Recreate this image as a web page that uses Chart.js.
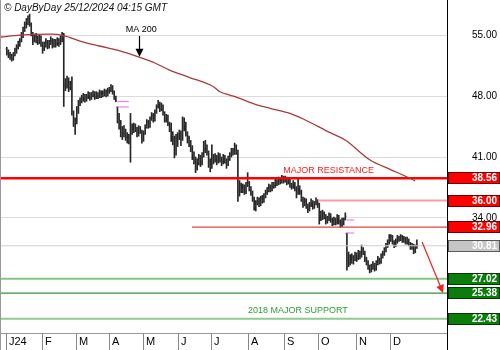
<!DOCTYPE html>
<html>
<head>
<meta charset="utf-8">
<script src="https://cdn.jsdelivr.net/npm/chart.js@4.4.1/dist/chart.umd.min.js"></script>
<style>
  html, body { margin: 0; padding: 0; background: #fff; }
  canvas { display: block; }
</style>
</head>
<body>
<canvas id="chart" width="500" height="350"></canvas>
<script>
// daily bars 2 Jan - 24 Dec 2024, x = trading day index
const opens = [
  53.4,53.0,52.7,52.5,52.3,52.8,53.1,53.6,54.0,54.4,
  55.0,55.7,56.2,56.6,57.0,56.2,55.1,54.5,54.8,54.4,
  54.3,54.6,53.9,53.4,53.9,54.2,53.8,54.1,54.3,53.9,
  54.2,54.0,54.3,54.1,54.5,54.8,49.3,49.5,49.8,49.0,
  49.2,46.2,44.8,45.0,46.5,47.2,47.5,47.8,48.0,47.6,
  47.9,48.2,47.8,48.1,48.3,47.9,48.2,48.0,48.4,48.1,
  48.3,48.5,48.2,48.6,48.8,48.9,48.5,47.8,46.7,45.3,
  44.6,43.8,44.0,43.6,43.3,43.0,43.2,44.5,44.0,44.6,
  44.2,43.6,44.3,44.0,43.0,43.8,44.5,45.0,44.6,45.4,
  45.8,45.3,46.2,46.8,47.2,46.5,46.9,46.0,45.2,45.6,
  44.8,44.2,43.5,43.0,42.0,42.5,43.3,43.8,43.0,44.5,
  44.8,43.6,43.2,42.6,42.0,41.4,40.6,39.8,40.5,40.9,
  40.3,41.2,41.8,42.2,41.5,40.5,39.9,40.8,40.6,41.0,
  40.5,41.2,40.8,40.4,41.0,40.6,40.2,40.9,41.3,41.8,
  41.5,42.2,41.6,36.6,37.8,37.2,37.6,37.0,37.8,38.0,
  37.4,36.9,36.2,35.4,35.8,36.1,35.6,36.3,36.0,36.5,
  36.9,37.2,37.6,37.3,37.9,37.7,38.2,38.0,38.4,38.2,
  38.6,38.3,38.5,38.1,38.4,37.8,37.6,38.0,37.4,36.9,
  37.5,37.0,36.2,35.6,36.0,35.4,35.0,35.5,35.9,35.3,
  35.7,36.0,35.6,34.4,34.0,34.5,34.2,33.6,33.9,34.3,
  33.8,33.4,33.9,33.5,34.1,33.6,33.2,33.7,33.9,32.2,
  29.2,29.6,29.0,29.5,29.3,29.8,29.4,30.0,29.6,30.4,
  30.1,29.3,28.9,28.4,28.0,28.3,28.6,28.2,28.8,29.2,
  29.0,29.6,29.9,30.3,30.8,31.2,31.6,31.9,31.2,30.9,
  31.3,31.8,31.6,31.9,31.4,31.7,31.2,31.5,31.0,30.6,
  30.9,30.2,30.7
];
const highs = [
  53.6,53.3,53.0,52.8,53.0,53.5,53.9,54.3,54.6,55.3,
  55.9,56.5,56.9,57.2,57.4,56.4,55.3,55.1,55.2,54.9,
  55.0,54.9,54.2,54.2,54.6,54.4,54.4,54.8,54.6,54.5,
  54.5,54.7,54.6,54.9,55.3,55.2,50.0,50.3,50.1,49.7,
  50.2,46.3,45.5,46.8,47.5,47.8,48.1,48.3,48.2,48.2,
  48.5,48.4,48.4,48.6,48.5,48.5,48.4,48.7,48.6,48.6,
  48.8,48.7,48.9,49.0,49.3,49.2,48.6,48.0,46.74,46.0,
  45.2,44.5,44.6,44.2,43.8,43.6,46.0,44.8,44.9,44.8,
  44.4,44.6,44.5,44.1,44.0,44.7,45.3,45.2,45.6,46.1,
  46.0,46.4,47.0,47.5,47.3,47.2,47.0,46.2,45.9,45.8,
  45.0,44.9,43.9,43.4,43.6,43.8,44.1,44.0,45.6,45.5,
  45.0,43.9,43.4,42.9,42.3,41.6,41.0,40.8,41.3,41.2,
  41.5,42.8,42.9,42.4,41.7,40.8,42.4,41.3,41.4,41.2,
  41.5,41.4,41.0,41.3,41.2,40.8,41.1,41.5,42.0,42.0,
  42.6,42.4,41.8,38.3,38.0,37.9,37.8,38.1,39.2,38.2,
  37.6,37.1,36.4,36.0,36.4,36.3,36.5,36.6,36.8,37.2,
  37.5,37.9,37.8,38.1,38.1,38.5,38.4,38.7,38.6,38.9,
  38.8,38.8,38.7,38.6,38.5,38.0,38.3,38.1,37.6,38.5,
  37.7,37.2,36.4,36.3,36.2,35.6,35.8,36.2,36.0,35.9,
  36.3,36.1,35.7,34.8,34.9,34.7,34.4,34.2,34.6,34.5,
  34.0,34.1,34.0,34.4,34.3,33.8,34.0,34.0,34.6,32.28,
  30.1,29.8,29.9,29.7,30.1,30.0,30.3,30.2,30.9,30.6,
  30.2,29.5,29.1,28.6,28.7,29.0,28.8,29.1,29.6,29.4,
  29.9,30.2,30.6,31.1,31.5,32.1,32.1,32.0,31.4,31.6,
  32.0,31.9,32.1,32.0,31.9,31.8,31.8,31.6,31.2,31.1,
  31.0,30.9,31.5
];
const lows = [
  52.7,52.4,52.2,52.0,52.1,52.6,52.9,53.4,53.7,54.2,
  54.7,55.4,55.8,56.2,56.0,54.9,53.9,54.2,54.1,53.9,
  54.0,53.7,52.9,53.2,53.6,53.4,53.5,53.9,53.5,53.6,
  53.6,53.8,53.7,53.9,54.2,46.8,48.6,48.9,48.5,48.7,
  45.8,44.5,43.6,44.8,46.0,46.9,47.2,47.4,47.3,47.4,
  47.7,47.5,47.6,47.9,47.6,47.7,47.7,47.8,47.8,47.9,
  48.0,47.9,48.0,48.3,48.5,48.2,47.6,47.35,44.9,44.2,
  43.3,43.0,43.3,42.9,42.6,42.5,40.4,43.6,43.8,43.9,
  43.3,43.4,43.7,42.6,42.8,43.6,44.3,44.3,44.4,45.2,
  45.0,45.1,46.0,46.6,46.2,46.3,45.8,45.0,45.0,44.6,
  43.9,42.8,42.4,40.9,41.2,42.2,43.0,42.3,42.9,44.0,
  43.4,42.6,42.2,41.6,40.7,40.2,39.2,39.5,40.1,39.9,
  40.1,41.0,41.5,41.2,39.8,39.3,39.7,40.2,40.4,40.1,
  40.3,40.4,40.0,40.2,40.3,39.7,40.0,40.6,41.0,41.2,
  41.3,41.3,35.9,36.5,36.9,36.9,36.7,36.8,37.6,37.1,
  36.6,35.9,34.9,34.8,35.5,35.3,35.4,35.7,35.8,36.3,
  36.7,37.0,37.0,37.1,37.4,37.5,37.7,37.8,37.9,38.0,
  38.0,38.1,37.8,37.9,37.5,37.3,37.4,37.1,36.3,36.7,
  36.7,35.9,35.2,35.4,35.1,34.6,34.8,35.3,35.0,35.1,
  35.5,35.2,33.3,33.7,33.8,33.9,33.3,33.4,33.7,33.5,
  33.1,33.2,33.2,33.3,33.3,32.9,33.0,33.2,33.77,28.0,
  28.4,28.6,28.8,28.7,29.1,29.0,29.2,29.3,29.5,29.8,
  29.0,28.6,28.1,27.7,27.8,28.1,27.9,28.0,28.6,28.7,
  28.8,29.4,29.7,30.1,30.6,31.0,31.3,31.0,30.6,30.7,
  31.1,31.3,31.4,31.2,31.2,31.0,31.0,30.8,30.4,30.4,
  29.9,30.0,30.5
];
const closes = [
  53.0,52.8,52.5,52.3,52.7,53.2,53.6,54.0,54.3,55.0,
  55.6,56.2,56.6,57.0,56.3,55.2,54.4,54.8,54.5,54.3,
  54.7,54.0,53.4,53.9,54.2,53.8,54.1,54.4,53.9,54.2,
  54.0,54.3,54.1,54.5,54.8,49.2,49.5,49.8,49.0,49.2,
  46.2,44.8,45.0,46.5,47.2,47.5,47.8,48.0,47.6,47.9,
  48.2,47.8,48.1,48.3,47.9,48.2,48.0,48.4,48.1,48.3,
  48.5,48.2,48.6,48.8,48.9,48.5,47.8,47.5,45.3,44.6,
  43.8,44.0,43.6,43.3,43.0,43.2,44.5,44.0,44.6,44.2,
  43.6,44.3,44.0,43.0,43.8,44.5,45.0,44.6,45.4,45.8,
  45.3,46.2,46.8,47.2,46.5,46.9,46.0,45.2,45.6,44.8,
  44.2,43.5,43.0,42.0,42.5,43.3,43.8,43.0,44.5,44.8,
  43.6,43.2,42.6,42.0,41.4,40.6,39.8,40.5,40.9,40.3,
  41.2,41.8,42.2,41.5,40.5,39.9,40.8,40.6,41.0,40.5,
  41.2,40.8,40.4,41.0,40.6,40.2,40.9,41.3,41.8,41.5,
  42.2,41.6,36.6,37.8,37.2,37.6,37.0,37.8,38.0,37.4,
  36.9,36.2,35.4,35.8,36.1,35.6,36.3,36.0,36.5,36.9,
  37.2,37.6,37.3,37.9,37.7,38.2,38.0,38.4,38.2,38.6,
  38.3,38.5,38.1,38.4,37.8,37.6,38.0,37.4,36.9,37.5,
  37.0,36.2,35.6,36.0,35.4,35.0,35.5,35.9,35.3,35.7,
  36.0,35.6,34.4,34.0,34.5,34.2,33.6,33.9,34.3,33.8,
  33.4,33.9,33.5,34.1,33.6,33.2,33.7,33.8,34.2,29.2,
  29.6,29.0,29.5,29.3,29.8,29.4,30.0,29.6,30.4,30.1,
  29.3,28.9,28.4,28.0,28.3,28.6,28.2,28.8,29.2,29.0,
  29.6,29.9,30.3,30.8,31.2,31.6,31.9,31.2,30.9,31.3,
  31.8,31.6,31.9,31.4,31.7,31.2,31.5,31.0,30.6,30.9,
  30.2,30.7,30.81
];

// first trading day of each month
const monthStarts = [0, 22, 43, 63, 84, 106, 126, 149, 171, 192, 215, 236];
const monthLabels = ['J24', 'F', 'M', 'A', 'M', 'J', 'J', 'A', 'S', 'O', 'N', 'D'];

// 200 day moving average, sampled
const maDays = [-3.6, 8, 27, 35, 45, 57, 70, 81, 91, 100, 112, 127, 131, 137, 141.3, 153.6, 161.8, 174, 182.2, 198.6, 207.9, 223.2, 235.5, 247.8, 250.9];
const maValues = [54.77, 55.0, 55.11, 54.94, 54.31, 53.74, 53.16, 52.48, 51.79, 50.98, 50.15, 49.07, 48.49, 48.11, 47.85, 46.97, 46.59, 46.01, 45.36, 43.79, 42.95, 40.66, 39.59, 38.56, 38.25];

// horizontal levels: value, first day drawn (null = whole width), kind
const levelValues = [38.56, 36.00, 32.96, 30.81, 27.02, 25.38, 22.43];
const levelFrom = [null, 191.3, 113.8, null, null, null, null];
const levelKinds = ['res', 'res', 'res', 'last', 'sup', 'sup', 'sup'];

// unfilled gaps: edge value, first and last day
const gapValues = [47.35, 46.74, 33.77, 32.28];
const gapFrom = [68, 68, 208.8, 208.8];
const gapTo = [75, 75, 213.5, 213.5];

const yTicks = [34, 41, 48, 55];
const X_MIN = -3.57, X_MAX = 270.5;

const FONT = '"Liberation Sans", Arial, Helvetica, sans-serif';
Chart.defaults.font.family = FONT;

const levelWidth = [2.5, 2, 1.2, 1, 2, 1.3, 2];
const levelColor = ['#ff0000', '#ff9c9c', '#dd4444', '#cfcfcf', '#86c586', '#3b8e3b', '#8ecb8e'];

const datasets = [];

// moving average on top
datasets.push({
  type: 'line',
  data: maDays.map((d, i) => ({ x: d, y: maValues[i] })),
  borderColor: '#a93a3a',
  borderWidth: 1.3,
  pointRadius: 0,
  cubicInterpolationMode: 'monotone',
  order: 0
});

levelValues.forEach((v, i) => {
  datasets.push({
    type: 'line',
    data: [{ x: levelFrom[i] ?? X_MIN, y: v }, { x: X_MAX, y: v }],
    borderColor: levelColor[i],
    borderWidth: levelWidth[i],
    pointRadius: 0,
    order: 1
  });
});

gapValues.forEach((v, i) => {
  datasets.push({
    type: 'line',
    data: [{ x: gapFrom[i], y: v }, { x: gapTo[i], y: v }],
    borderColor: '#ee66ee',
    borderWidth: 1,
    pointRadius: 0,
    order: 1
  });
});

// open / close ticks
datasets.push({
  type: 'scatter',
  data: opens.map((o, i) => ({ x: i - 0.4, y: o })),
  pointStyle: 'line', pointRadius: 0.6, borderWidth: 1,
  borderColor: '#444', showLine: false, order: 2
});
datasets.push({
  type: 'scatter',
  data: closes.map((c, i) => ({ x: i + 0.4, y: c })),
  pointStyle: 'line', pointRadius: 0.6, borderWidth: 1,
  borderColor: '#444', showLine: false, order: 2
});

// high-low range of each day
datasets.push({
  type: 'bar',
  data: highs.map((h, i) => ({ x: i, y: [lows[i], h] })),
  backgroundColor: '#262626',
  barThickness: 1,
  borderWidth: 0,
  order: 3
});

function arrow(ctx, x0, y0, x1, y1, color, len, half) {
  const ang = Math.atan2(y1 - y0, x1 - x0);
  const c = Math.cos(ang), s = Math.sin(ang);
  ctx.strokeStyle = color;
  ctx.fillStyle = color;
  ctx.lineWidth = 1.2;
  ctx.beginPath();
  ctx.moveTo(x0, y0);
  ctx.lineTo(x1 - c * len * 0.8, y1 - s * len * 0.8);
  ctx.stroke();
  ctx.beginPath();
  ctx.moveTo(x1, y1);
  ctx.lineTo(x1 - c * len + s * half, y1 - s * len - c * half);
  ctx.lineTo(x1 - c * len - s * half, y1 - s * len + c * half);
  ctx.closePath();
  ctx.fill();
}

const overlay = {
  id: 'overlay',
  afterDraw(chart) {
    const { ctx, chartArea: a, scales: { x, y } } = chart;
    const W = chart.width, H = chart.height;
    ctx.save();

    // frame
    ctx.lineWidth = 1;
    ctx.strokeStyle = '#999';
    ctx.beginPath();
    ctx.moveTo(0.5, 0); ctx.lineTo(0.5, H);
    ctx.moveTo(0, a.bottom + 0.5); ctx.lineTo(a.right, a.bottom + 0.5);
    ctx.stroke();
    ctx.strokeStyle = '#000';
    ctx.beginPath();
    ctx.moveTo(a.right + 0.5, 0); ctx.lineTo(a.right + 0.5, H);
    ctx.stroke();

    // month separators and labels
    ctx.font = '11px ' + FONT;
    ctx.textAlign = 'left';
    ctx.textBaseline = 'middle';
    monthStarts.forEach((d, i) => {
      const px = Math.round(x.getPixelForValue(d - 0.5)) + 0.5;
      ctx.strokeStyle = '#888';
      ctx.beginPath();
      ctx.moveTo(px, a.bottom); ctx.lineTo(px, H);
      ctx.stroke();
      ctx.fillStyle = '#000';
      ctx.fillText(monthLabels[i], px + 2.5, a.bottom + 9);
    });

    // level tags on the price axis
    levelValues.forEach((v, i) => {
      const kind = levelKinds[i];
      const yy = Math.round(y.getPixelForValue(v));
      ctx.fillStyle = kind === 'res' ? '#ff0000' : kind === 'sup' ? '#0a7d0a' : '#c6c6c6';
      ctx.fillRect(a.right + 1, yy - 6, W - a.right - 1, 12);
      ctx.strokeStyle = 'rgba(0,0,0,0.55)';
      ctx.strokeRect(a.right + 1.5, yy - 5.5, W - a.right - 2, 11);
      ctx.fillStyle = '#fff';
      ctx.font = 'bold 10px ' + FONT;
      ctx.textAlign = 'right';
      ctx.fillText(v.toFixed(2), W - 3, yy + 0.5);
    });

    // annotations
    ctx.textAlign = 'left';
    ctx.font = 'italic 10px ' + FONT;
    ctx.fillStyle = '#111';
    ctx.fillText('\u00a9 DayByDay 25/12/2024 04:15 GMT', a.left + 3, a.top + 8);

    ctx.font = '9px ' + FONT;
    ctx.fillStyle = '#000';
    ctx.textAlign = 'center';
    ctx.fillText('MA 200', x.getPixelForValue(82.6), y.getPixelForValue(55.6));
    const ax = Math.round(x.getPixelForValue(81.2)) + 0.5;
    arrow(ctx, ax, y.getPixelForValue(54.9), ax, y.getPixelForValue(52.5), '#000', 8, 4);

    ctx.textAlign = 'left';
    ctx.fillStyle = '#ff1a1a';
    ctx.fillText('MAJOR RESISTANCE', x.getPixelForValue(169.8), y.getPixelForValue(39.4));
    ctx.fillStyle = '#2e9e2e';
    ctx.fillText('2018 MAJOR SUPPORT', x.getPixelForValue(148.2), y.getPixelForValue(23.33));

    arrow(ctx, x.getPixelForValue(255.2), y.getPixelForValue(31.25),
      x.getPixelForValue(268.1), y.getPixelForValue(25.4), '#ee2222', 8, 4);

    ctx.restore();
  }
};

new Chart(document.getElementById('chart'), {
  type: 'bar',
  data: { datasets },
  options: {
    responsive: false,
    animation: false,
    events: [],
    layout: { autoPadding: false, padding: { left: 1, right: 0, top: 0, bottom: 0 } },
    plugins: { legend: { display: false }, tooltip: { enabled: false } },
    scales: {
      x: {
        type: 'linear', min: X_MIN, max: X_MAX, offset: false,
        afterFit: s => { s.height = 17; s.paddingLeft = 0; s.paddingRight = 0; },
        ticks: { display: false },
        grid: { display: false, offset: false },
        border: { display: false }
      },
      y: {
        position: 'right', min: 20.8, max: 59.02,
        afterBuildTicks: s => { s.ticks = yTicks.map(v => ({ value: v })); },
        afterFit: s => { s.width = 53; s.paddingTop = 0; s.paddingBottom = 0; },
        grid: { color: '#dcdcdc', drawTicks: false },
        border: { display: false },
        ticks: {
          padding: 25, color: '#000', font: { size: 10 },
          callback: v => v.toFixed(2)
        }
      }
    }
  },
  plugins: [overlay]
});
</script>
</body>
</html>
